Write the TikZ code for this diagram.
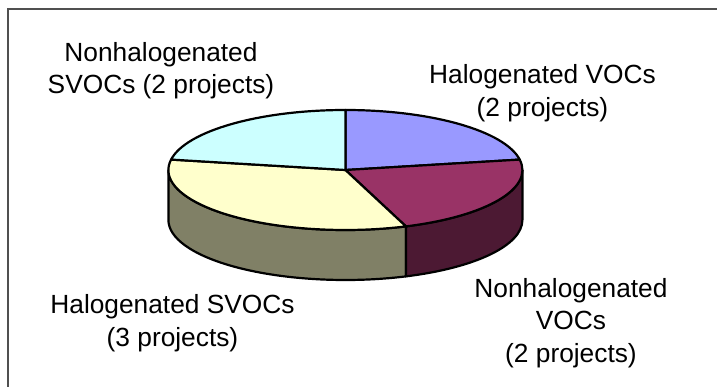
\documentclass[tikz,border=0pt]{standalone}
\usepackage{fontspec}
\setmainfont{Liberation Sans}
\usetikzlibrary{calc}
\definecolor{slblue}{HTML}{9999FF}
\definecolor{slmaroon}{HTML}{993366}
\definecolor{slyellow}{HTML}{FFFFCC}
\definecolor{slcyan}{HTML}{CCFFFF}
\definecolor{sdmaroon}{HTML}{4C1933}
\definecolor{sdyellow}{HTML}{808066}
\definecolor{framegray}{HTML}{505050}
\begin{document}
\begin{tikzpicture}[x=1pt,y=1pt,
  slice/.style={draw=black,line width=2.2pt,line join=round},
  el/.style={x radius=177pt,y radius=60pt},
  lbl/.style={anchor=north,inner sep=0pt,align=center,
    font=\fontsize{26.3}{32.8}\selectfont}]
\useasboundingbox (0,0) rectangle (717,-387);
\fill[white] (0,0) rectangle (717,-387);
% frame
\draw[framegray,line width=2pt] (720,-9) -- (8,-9) -- (8,-390);
% pie geometry
\coordinate (C) at (345.4,-170);
\path (C) ++(90:177pt and 60pt) coordinate (p90);
\path (C) ++(10:177pt and 60pt) coordinate (p10);
\path (C) ++(-70:177pt and 60pt) coordinate (p290);
\path (C) ++(170:177pt and 60pt) coordinate (p170);
\path (C) ++(180:177pt and 60pt) coordinate (p180);
% side faces
\filldraw[slice,fill=sdyellow] (p180) arc[start angle=180,end angle=290,el]
  -- ++(0,-50) arc[start angle=290,end angle=180,el] -- cycle;
\filldraw[slice,fill=sdmaroon] (p290) arc[start angle=290,end angle=360,el]
  -- ++(0,-50) arc[start angle=360,end angle=290,el] -- cycle;
% top slices
\filldraw[slice,fill=slblue] (C) -- (p10) arc[start angle=10,end angle=90,el] -- cycle;
\filldraw[slice,fill=slmaroon] (C) -- (p290) arc[start angle=-70,end angle=10,el] -- cycle;
\filldraw[slice,fill=slyellow] (C) -- (p170) arc[start angle=170,end angle=290,el] -- cycle;
\filldraw[slice,fill=slcyan] (C) -- (p90) arc[start angle=90,end angle=170,el] -- cycle;
% labels
\node[lbl] (lNS) at (161,-41.8) {Nonhalogenated\\SVOCs (2 projects)};
\node[lbl] (lHV) at (542.5,-64.4) {Halogenated VOCs\\(2 projects)};
\node[lbl] (lHS) at (172.5,-294.4) {Halogenated SVOCs\\(3 projects)};
\node[lbl] (lNV) at (571,-277.8) {Nonhalogenated\\VOCs\\(2 projects)};
\end{tikzpicture}
\end{document}
